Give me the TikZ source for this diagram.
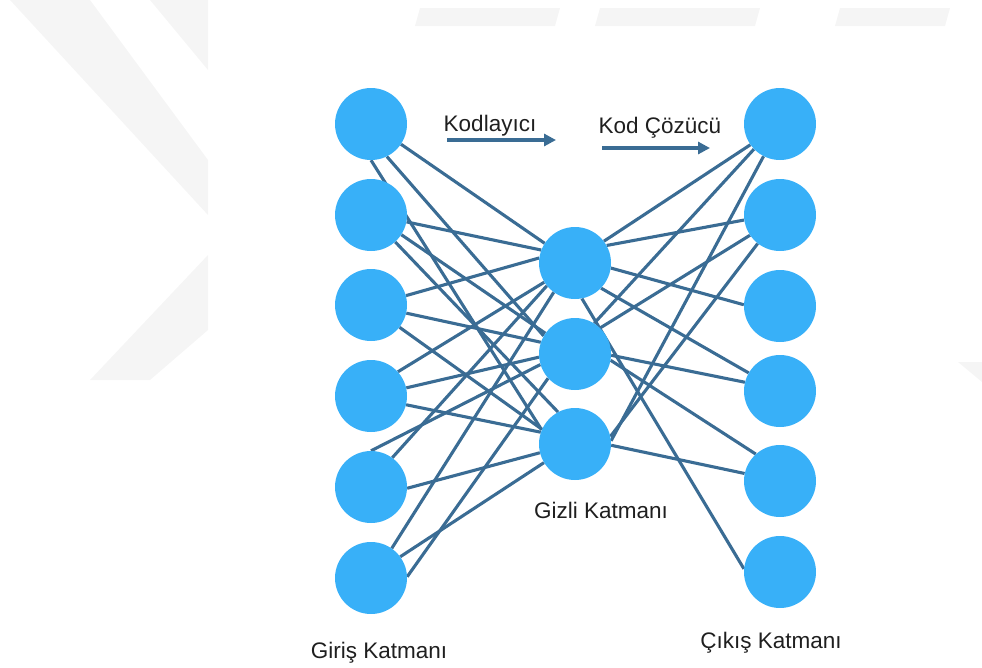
\documentclass[tikz,border=0pt]{standalone}
\usepackage{fontspec}
\setmainfont{Liberation Sans}
\usetikzlibrary{arrows.meta}
\definecolor{nodeblue}{RGB}{56,176,248}
\definecolor{edgeblue}{RGB}{58,108,148}
\definecolor{wmgray}{RGB}{245,245,245}
\pgfdeclarelayer{background}
\pgfsetlayers{background,main}
\begin{document}
\begin{tikzpicture}[x=1pt,y=-1pt,
  neuron/.style={circle,fill=nodeblue,minimum size=72pt,inner sep=0pt},
  link/.style={draw=edgeblue,line width=3.1pt},
  flow/.style={draw=edgeblue,line width=3.2pt,-{Triangle[length=12pt,width=12pt]}},
  caption/.style={font=\fontsize{22.5}{26}\selectfont,text=black!88,anchor=base,inner sep=0pt}]
\useasboundingbox (0,0) rectangle (982,667);

% faint background marks
\fill[wmgray] (10,0) -- (90,0) -- (208,160) -- (208,215) -- cycle;
\fill[wmgray] (150,0) -- (208,0) -- (208,70) -- cycle;
\fill[wmgray] (208,255) -- (208,330) -- (150,380) -- (90,380) -- cycle;
\fill[wmgray] (958,362) -- (982,362) -- (982,382) -- cycle;
\fill[wmgray] (420,8) -- (560,8) -- (555,26) -- (415,26) -- cycle;
\fill[wmgray] (600,8) -- (760,8) -- (755,26) -- (595,26) -- cycle;
\fill[wmgray] (840,8) -- (950,8) -- (945,26) -- (835,26) -- cycle;

% input layer
\foreach \k/\y in {1/124,2/215,3/305,4/396,5/487,6/578}
  \node[neuron] (i\k) at (371,\y) {};
% hidden layer
\foreach \k/\y in {1/263,2/354,3/444}
  \node[neuron] (h\k) at (575,\y) {};
% output layer
\foreach \k/\y in {1/124,2/215,3/306,4/391,5/481,6/572}
  \node[neuron] (o\k) at (780,\y) {};

\begin{pgfonlayer}{background}
% encoder connections
\draw[link] (i1.-34) -- (h1.147);
\draw[link] (i1.-64) -- (h2.150);
\draw[link] (i1.-90) -- (h3.157);
\draw[link] (i2.-11) -- (h1.159);
\draw[link] (i2.-33) -- (h2.145);
\draw[link] (i2.-48) -- (h3.118);
\draw[link] (i3.15) -- (h1.172);
\draw[link] (i3.-13) -- (h2.161);
\draw[link] (i3.-38) -- (h3.156);
\draw[link] (i4.42) -- (h1.212);
\draw[link] (i4.13) -- (h2.185);
\draw[link] (i4.-14) -- (h3.161);
\draw[link] (i5.54) -- (h1.219);
\draw[link] (i5.90) -- (h2.197);
\draw[link] (i5.-2) -- (h3.194);
\draw[link] (i6.55) -- (h1.234);
\draw[link] (i6.2) -- (h2.222);
\draw[link] (i6.36) -- (h3.211);
% decoder connections
\draw[link] (h1.37) -- (o1.215);
\draw[link] (h1.29) -- (o2.188);
\draw[link] (h1.-8) -- (o3.178);
\draw[link] (h1.-44) -- (o4.150);
\draw[link] (h1.-79) -- (o6.175);
\draw[link] (h2.58) -- (o1.224);
\draw[link] (h2.46) -- (o2.214);
\draw[link] (h2.-2) -- (o4.166);
\draw[link] (h2.-10) -- (o5.132);
\draw[link] (h3.5) -- (o1.243);
\draw[link] (h3.12) -- (o2.232);
\draw[link] (h3.-2) -- (o5.168);
\end{pgfonlayer}

% direction arrows and captions
\coordinate (encA) at (447,140);
\coordinate (encB) at (556,140);
\coordinate (decA) at (602,148);
\coordinate (decB) at (710,148);
\draw[flow] (encA) -- (encB);
\draw[flow] (decA) -- (decB);
\node[caption] (enc) at (490,131) {Kodlayıcı};
\node[caption] (dec) at (660,133) {Kod Çözücü};
\node[caption] (hid) at (601,518) {Gizli Katmanı};
\node[caption] (inp) at (379,658) {Giriş Katmanı};
\node[caption] (out) at (771,648) {Çıkış Katmanı};
\end{tikzpicture}
\end{document}
